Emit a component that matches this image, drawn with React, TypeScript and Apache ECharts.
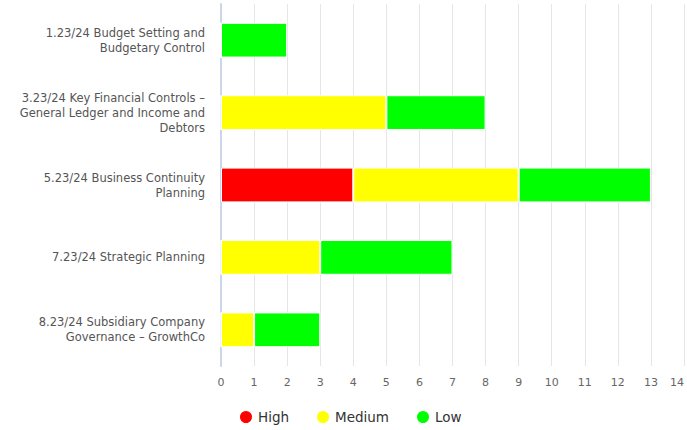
import React, { useEffect, useRef } from "react";
import * as echarts from "echarts";

const categories = [
  "1.23/24 Budget Setting and\nBudgetary Control",
  "3.23/24 Key Financial Controls –\nGeneral Ledger and Income and\nDebtors",
  "5.23/24 Business Continuity\nPlanning",
  "7.23/24 Strategic Planning",
  "8.23/24 Subsidiary Company\nGovernance – GrowthCo",
];
const highValues = [0, 0, 4, 0, 0];
const mediumValues = [0, 5, 5, 3, 1];
const lowValues = [2, 3, 4, 4, 2];
const xTicks = { min: 0, max: 14, interval: 1 };

const FONT = "DejaVu Sans";

export default function App() {
  const ref = useRef<HTMLDivElement>(null);
  useEffect(() => {
    if (!ref.current) return;
    const chart = echarts.init(ref.current, undefined, { renderer: "svg" });
    const bar = (name: string, data: number[], color: string) => ({
      name,
      type: "bar",
      stack: "total",
      data,
      barWidth: "48%",
      itemStyle: { color, borderColor: "#ffffff", borderWidth: 1 },
    });
    chart.setOption({
      animation: false,
      textStyle: { fontFamily: FONT },
      grid: { left: 221, right: 3, top: 4, bottom: 64, outerBoundsMode: "none", containLabel: false },
      legend: {
        bottom: 0,
        left: 233,
        icon: "circle",
        itemWidth: 14,
        itemHeight: 14,
        itemGap: 26,
        textStyle: { fontSize: 13.5, color: "#333333", fontFamily: FONT },
        data: ["High", "Medium", "Low"],
      },
      xAxis: {
        type: "value",
        min: xTicks.min,
        max: xTicks.max,
        interval: xTicks.interval,
        axisLine: { show: false },
        axisTick: { show: false },
        axisLabel: {
          color: "#666666",
          fontSize: 11,
          margin: 11,
          fontFamily: FONT,
          alignMaxLabel: "right",
        },
        splitLine: { show: true, lineStyle: { color: "#e6e6e6", width: 1 } },
      },
      yAxis: {
        type: "category",
        inverse: true,
        data: categories,
        axisLine: { show: true, lineStyle: { color: "#ccd6eb", width: 2 } },
        axisTick: { show: false },
        axisLabel: {
          color: "#555555",
          fontSize: 11.5,
          margin: 16,
          lineHeight: 15,
          align: "right",
          fontFamily: FONT,
        },
        splitLine: { show: false },
      },
      series: [
        bar("High", highValues, "#ff0000"),
        bar("Medium", mediumValues, "#ffff00"),
        bar("Low", lowValues, "#00ff00"),
      ],
    });
    return () => chart.dispose();
  }, []);
  return (
    <div
      ref={ref}
      style={{ position: "absolute", left: 0, top: 0, width: 687, height: 430 }}
    />
  );
}
